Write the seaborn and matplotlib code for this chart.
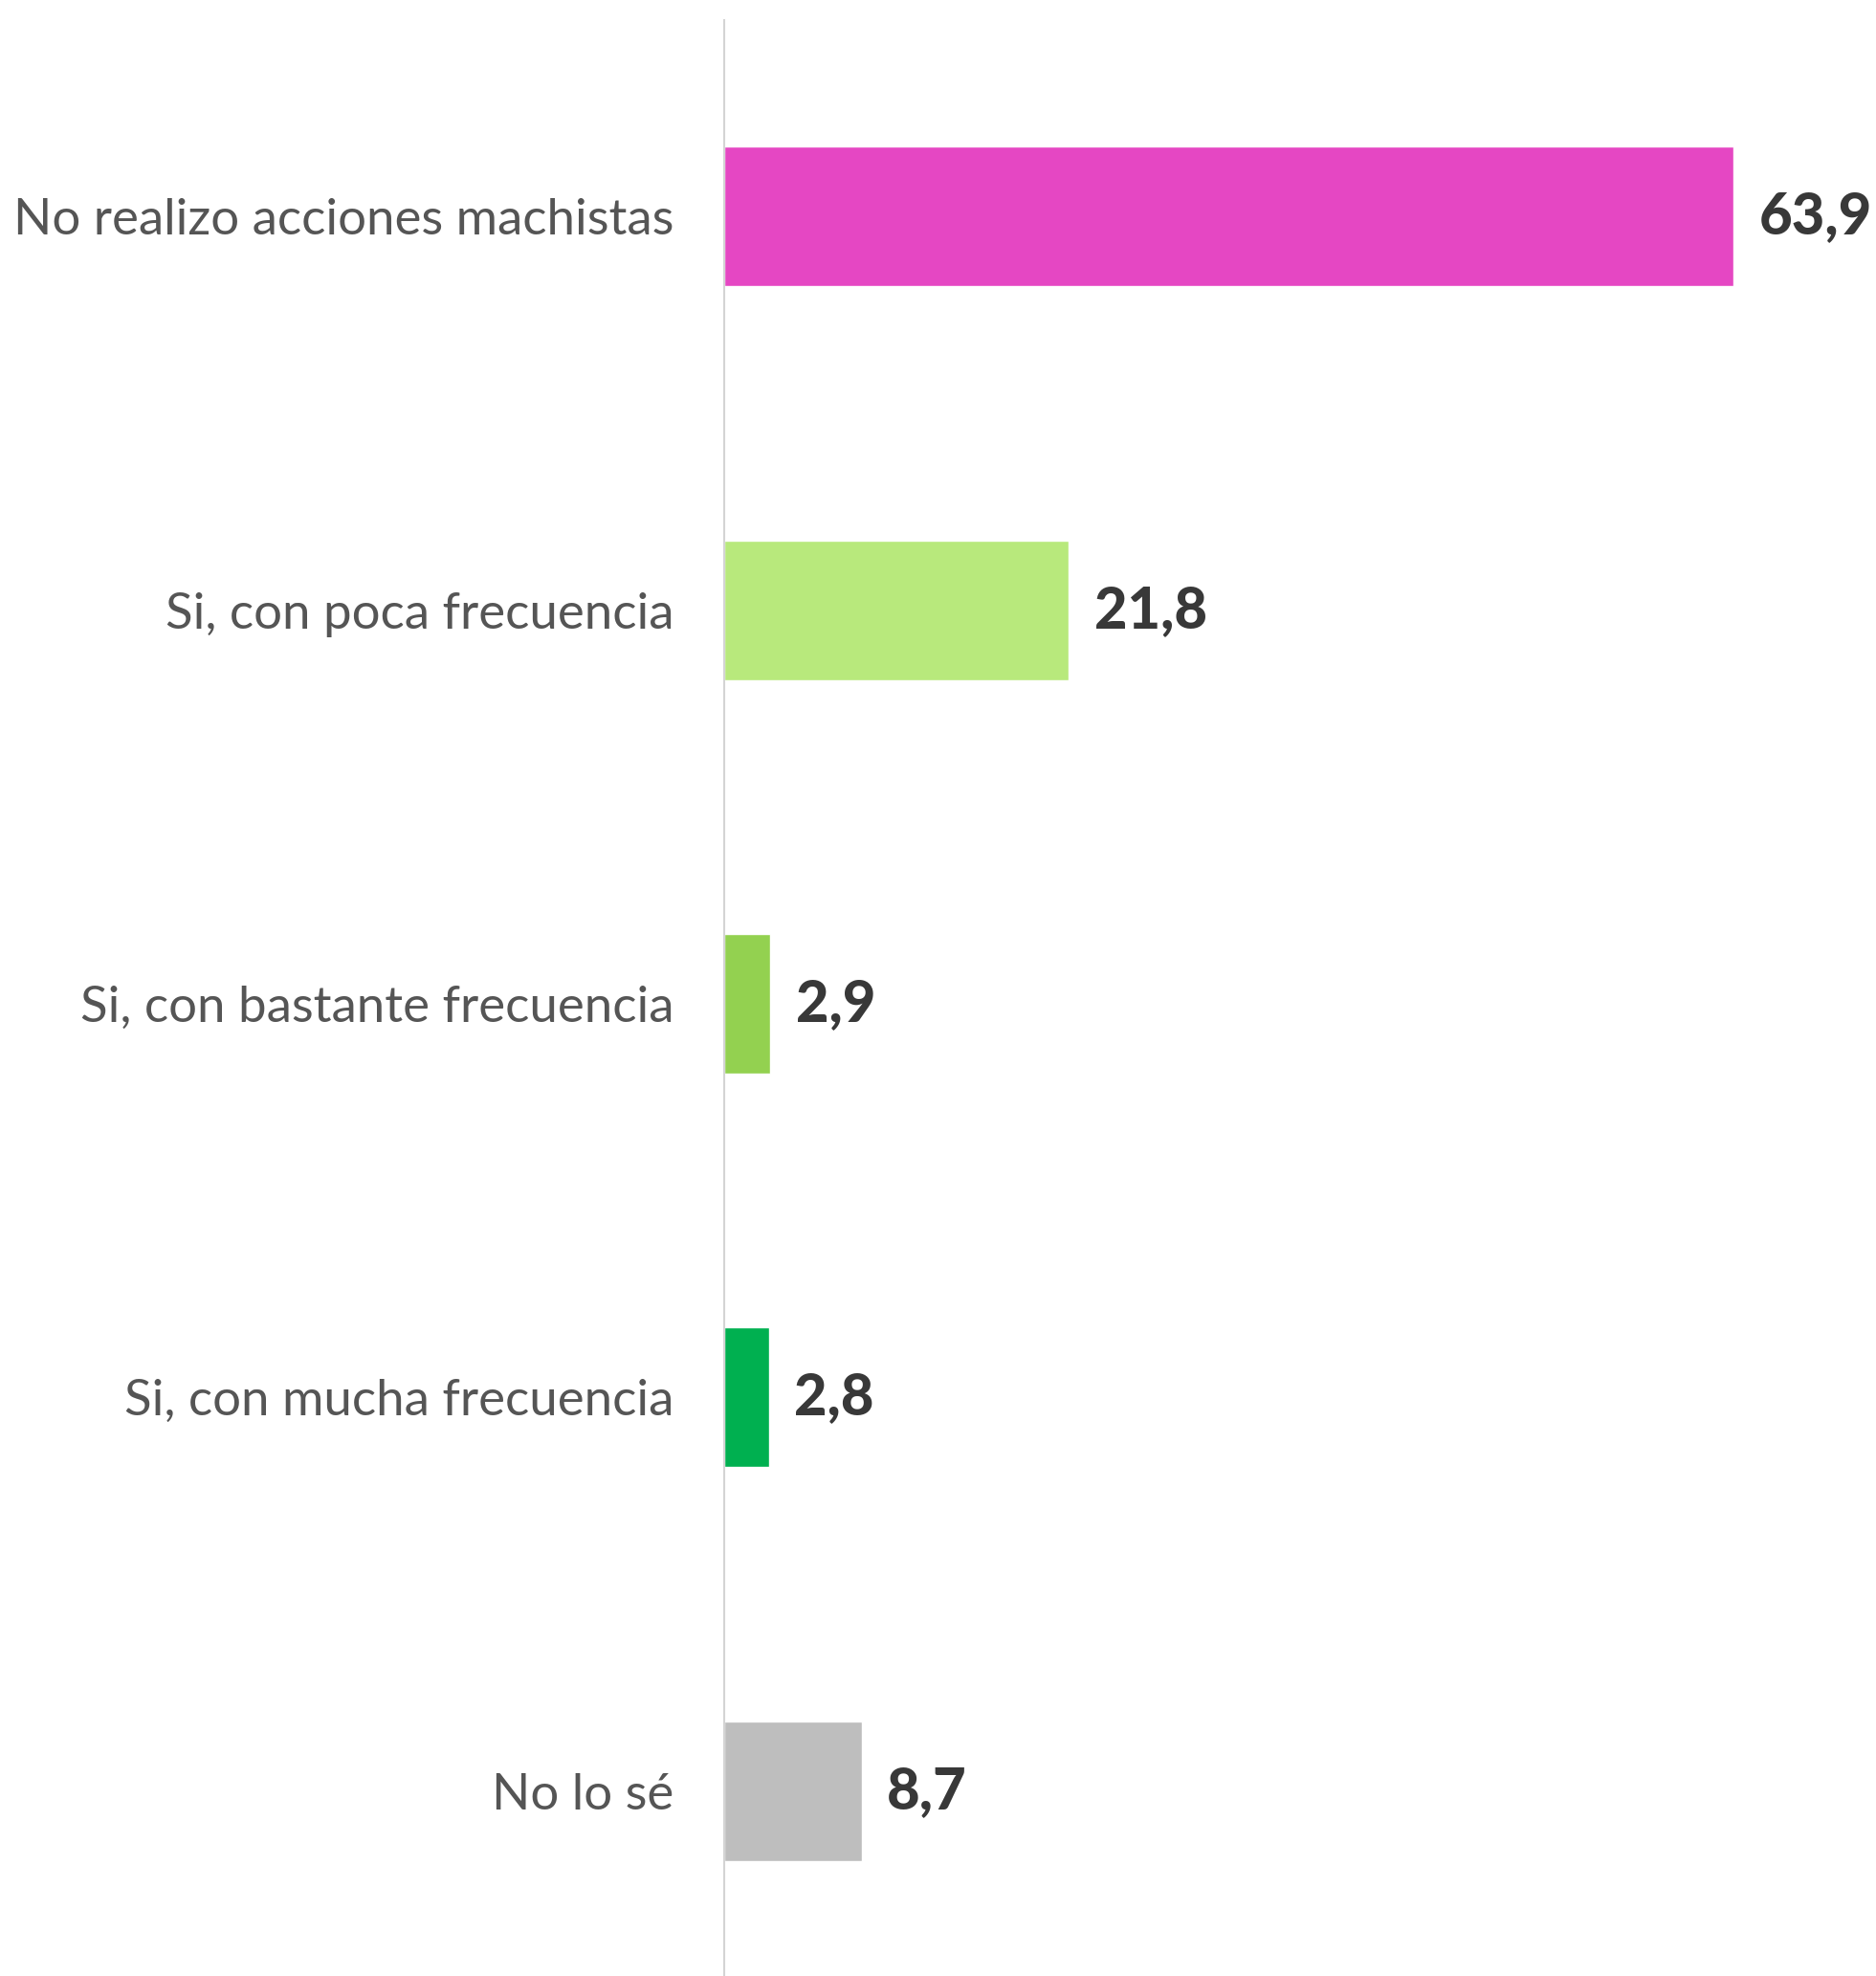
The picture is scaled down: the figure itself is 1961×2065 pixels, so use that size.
import matplotlib
matplotlib.use("Agg")
import matplotlib.pyplot as plt
import seaborn as sns
import pandas as pd

# --- datos ---
categorias = [
    "No realizo acciones machistas",
    "Si, con poca frecuencia",
    "Si, con bastante frecuencia",
    "Si, con mucha frecuencia",
    "No lo sé",
]
valores = [63.9, 21.8, 2.9, 2.8, 8.7]
colores = ["#E547C3", "#B8E97C", "#93D150", "#00B050", "#BEBEBE"]

df = pd.DataFrame({"categoria": categorias, "valor": valores})

sns.set_theme(style="white")
plt.rcParams["font.family"] = ["Lato", "DejaVu Sans"]

fig = plt.figure(figsize=(19.61, 20.65), dpi=100)
ax = fig.add_axes([0.3862, 0.0, 0.6138, 0.990])

sns.barplot(data=df, x="valor", y="categoria", hue="categoria",
            palette=colores, orient="h", width=0.355, legend=False,
            saturation=1, ax=ax)

ax.set_xlim(0, 72.9)
ax.set_ylim(4.47, -0.5)
ax.set_xlabel("")
ax.set_ylabel("")
ax.set_xticks([])

for s in ["top", "right", "bottom"]:
    ax.spines[s].set_visible(False)
ax.spines["left"].set_color("#d4d4d4")
ax.spines["left"].set_linewidth(1.5)

ax.tick_params(axis="y", length=0, pad=38, labelsize=38, labelcolor="#555555")

for cont in ax.containers:
    etiquetas = [f"{v:.1f}".replace(".", ",") for v in cont.datavalues]
    ax.bar_label(cont, labels=etiquetas, padding=19, fontsize=43,
                 fontweight="black", color="#383838")

fig.savefig("out.png", dpi=100)
plt.close(fig)
